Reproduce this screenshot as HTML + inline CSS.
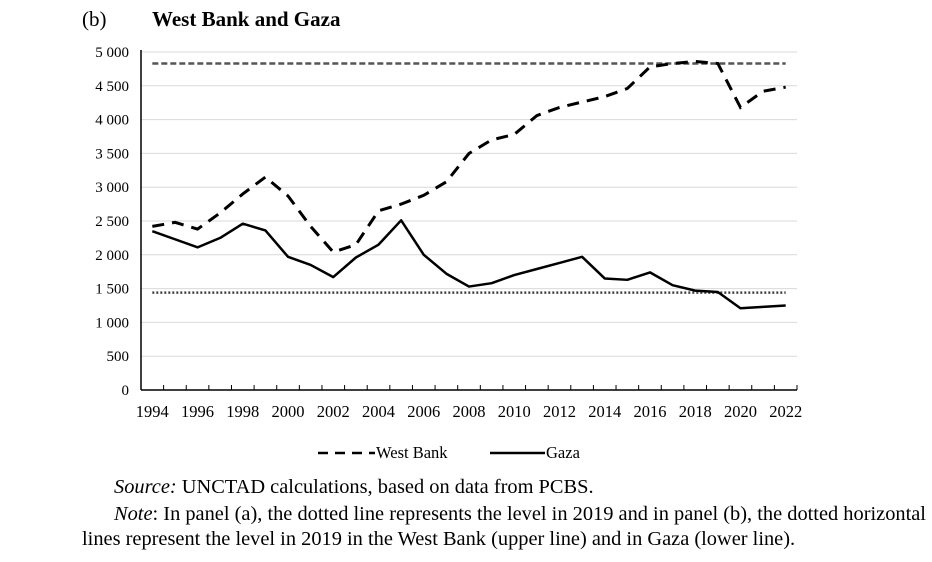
<!DOCTYPE html>
<html><head><meta charset="utf-8">
<style>
body{margin:0;width:932px;height:562px;background:#fff;font-family:"Liberation Serif",serif;overflow:hidden}
svg{position:absolute;left:0;top:0}
.t{position:absolute;font-size:20.4px;color:#000;white-space:nowrap}
</style></head><body>
<svg id="c" width="932" height="562"></svg>
<div class="t" style="left:82px;top:7px;font-size:21px">(b)</div>
<div class="t" style="left:152px;top:7px;font-size:21px;font-weight:bold">West Bank and Gaza</div>
<div class="t" style="left:114px;top:476px"><i>Source:</i> UNCTAD calculations, based on data from PCBS.</div>
<div class="t" style="left:114px;top:503px"><i>Note</i>: In panel (a), the dotted line represents the level in 2019 and in panel (b), the dotted horizontal</div>
<div class="t" style="left:82px;top:528px">lines represent the level in 2019 in the West Bank (upper line) and in Gaza (lower line).</div>
<script>
const years=[1994,1995,1996,1997,1998,1999,2000,2001,2002,2003,2004,2005,2006,2007,2008,2009,2010,2011,2012,2013,2014,2015,2016,2017,2018,2019,2020,2021,2022];
const westBank=[2420,2480,2380,2620,2900,3150,2870,2420,2040,2150,2650,2750,2880,3080,3500,3700,3780,4060,4180,4260,4340,4460,4780,4830,4860,4830,4180,4420,4480];
const gaza=[2350,2230,2110,2250,2460,2360,1970,1850,1670,1960,2150,2510,2000,1720,1530,1580,1700,1790,1880,1970,1650,1630,1740,1550,1470,1450,1210,1230,1250];
const yTicks=[0,500,1000,1500,2000,2500,3000,3500,4000,4500,5000];
const wbRef=4830, gazaRef=1440;
const NS="http://www.w3.org/2000/svg",svg=document.getElementById('c');
const X0=141,X1=797,Y0=390,Y1=52;
const bw=(X1-X0)/years.length;
const x=i=>X0+bw*(i+0.5);
const y=v=>Y0-(v/5000)*(Y0-Y1);
function mk(t,a){const e=document.createElementNS(NS,t);for(const k in a)e.setAttribute(k,a[k]);svg.appendChild(e);return e;}
yTicks.forEach(v=>{
 if(v>0){const g=mk('line',{x1:X0,x2:X1,y1:y(v),y2:y(v),stroke:'#d9d9d9','stroke-width':1});
 
 }
 const t=mk('text',{x:X0-12,y:y(v)+5,'text-anchor':'end','font-size':15,'font-family':'Liberation Serif'});t.textContent=v>=1000?Math.floor(v/1000)+' '+String(v%1000).padStart(3,'0'):v;
 
 
});
let a=mk('line',{x1:X0,x2:X0,y1:Y1-2,y2:Y0,stroke:'#000','stroke-width':1.5});

a=mk('line',{x1:X0,x2:X1,y1:Y0,y2:Y0,stroke:'#000','stroke-width':1.5});

for(let i=0;i<=years.length;i++){const tk=mk('line',{x1:X0+bw*i,x2:X0+bw*i,y1:Y0,y2:Y0-5,stroke:'#000'});
}
years.forEach((yr,i)=>{if(i%2)return;const t=mk('text',{x:x(i),y:Y0+27,'text-anchor':'middle','font-size':16.5,'font-family':'Liberation Serif'});t.textContent=yr;
});
let r=mk('line',{x1:x(0),x2:x(years.length-1),y1:y(wbRef),y2:y(wbRef),stroke:'#555','stroke-width':2.5,'stroke-dasharray':'6 3'});

r=mk('line',{x1:x(0),x2:x(years.length-1),y1:y(gazaRef),y2:y(gazaRef),stroke:'#444','stroke-width':2.5,'stroke-dasharray':'2 2'});

const pts=arr=>arr.map((v,i)=>x(i)+','+y(v)).join(' ');
let p=mk('polyline',{points:pts(westBank),fill:'none',stroke:'#000','stroke-width':3,'stroke-dasharray':'12 8'});

p=mk('polyline',{points:pts(gaza),fill:'none',stroke:'#000','stroke-width':2.5,'stroke-linejoin':'round'});

let l=mk('line',{x1:318,x2:375,y1:453,y2:453,stroke:'#000','stroke-width':2.5,'stroke-dasharray':'10 7'});

let lt=mk('text',{x:376,y:458,'font-size':16.5,'font-family':'Liberation Serif'});lt.textContent='West Bank';

l=mk('line',{x1:490,x2:545,y1:453,y2:453,stroke:'#000','stroke-width':2.5});

lt=mk('text',{x:546,y:458,'font-size':16.5,'font-family':'Liberation Serif'});lt.textContent='Gaza';

</script>
</body></html>
